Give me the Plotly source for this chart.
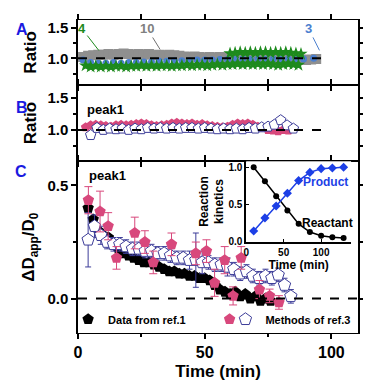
import plotly.graph_objects as go

# ---------------- Panel A data ----------------
a_gray_t = [2, 4, 6, 8, 10, 12, 14, 16, 18, 20, 22, 24, 26, 28, 30, 32, 34, 36, 38, 40,
            42, 44, 46, 48, 50, 52, 54, 56, 58, 60, 62, 64, 66, 68, 70, 72, 74, 76, 78, 80,
            82, 84, 86, 88, 90, 92, 94]
a_gray_v = [1.02, 1.04, 1.05, 1.06, 1.06, 1.07, 1.06, 1.07, 1.08, 1.07, 1.06, 1.07, 1.06, 1.07, 1.05,
            1.06, 1.05, 1.06, 1.05, 1.04, 1.03, 1.02, 1.03, 1.02, 1.01, 1.02, 1.01, 1.02, 1.01, 1.02,
            1.03, 1.02, 1.03, 1.02, 1.01, 1.02, 1.03, 1.02, 1.01, 1.00, 0.99, 0.98, 0.97, 0.98, 0.97,
            0.98, 0.99]

a_blue_t = [2, 5, 8, 11, 14, 17, 20, 23, 26, 29, 32, 35, 38, 41, 44, 47, 50, 53, 56, 59,
            62, 65, 68, 71, 74, 77, 80, 83, 86, 89, 93]
a_blue_v = [0.97, 0.93, 0.92, 0.92, 0.93, 0.92, 0.93, 0.93, 0.94, 0.94, 0.95, 0.95, 0.96, 0.96, 0.96,
            0.97, 0.97, 0.97, 0.98, 0.98, 0.98, 0.99, 0.98, 0.99, 0.98, 0.99, 0.98, 0.99, 0.98, 0.99,
            1.00]

a_green_low_t = [3, 5, 7, 9, 11, 13, 15, 17, 19, 21, 23, 25, 27, 29, 31, 33, 35, 37, 39, 41,
                 43, 45, 47, 49, 51, 53, 55, 57, 59, 61, 63, 65, 67, 69, 71, 73, 75, 77, 79, 81,
                 83, 85, 87]
a_green_low_v = [0.88, 0.86, 0.87, 0.86, 0.87, 0.86, 0.87, 0.87, 0.86, 0.87,
                 0.87, 0.88, 0.87, 0.88, 0.87, 0.88, 0.88, 0.87, 0.88, 0.88,
                 0.89, 0.88, 0.89, 0.89, 0.88, 0.89, 0.90, 0.89, 0.90, 0.90,
                 0.91, 0.90, 0.91, 0.90, 0.91, 0.90, 0.91, 0.90, 0.89, 0.90,
                 0.91, 0.90, 0.89]

a_green_up_t = [60, 62, 64, 66, 68, 70, 72, 74, 76, 78, 80, 82, 84, 86, 88]
a_green_up_v = [1.08, 1.09, 1.10, 1.09, 1.10, 1.09, 1.10, 1.10, 1.09, 1.10, 1.09, 1.10, 1.09, 1.08, 1.07]

# ---------------- Panel B data ----------------
b_pink_t = [3, 5, 7, 9, 11, 13, 15, 17, 19, 21, 23, 25, 27, 29, 31, 33, 35, 37, 39, 41,
            43, 45, 47, 49, 51, 53, 55, 57, 59, 61, 63, 65, 67, 69, 71, 73, 75, 77, 79, 81, 83]
b_pink_v = [1.04, 1.07, 1.08, 1.07, 1.06, 1.05, 1.07, 1.08, 1.07, 1.08, 1.09, 1.10, 1.09, 1.07, 1.06,
            1.07, 1.08, 1.10, 1.11, 1.10, 1.09, 1.10, 1.08, 1.09, 1.07, 1.06, 1.05, 1.04, 1.05, 1.08,
            1.10, 1.09, 1.10, 1.08, 1.05, 1.03, 1.00, 0.99, 0.98, 1.00, 0.99]

b_open_t = [5, 7.5, 10, 12.5, 15, 17.5, 20, 22.5, 25, 27.5, 30, 32.5, 35, 37.5, 40, 42.5, 45,
            47.5, 50, 52.5, 55, 57.5, 60, 62.5, 65, 67.5, 70, 72.5, 75, 77.5, 80, 82.5, 85]
b_open_v = [0.92, 1.03, 1.00, 1.02, 1.01, 1.02, 1.00, 1.02, 1.01, 1.03, 1.02, 1.03, 1.02, 1.03,
            1.02, 1.03, 1.03, 1.02, 1.03, 1.02, 1.01, 1.02, 1.01, 1.02, 1.01, 1.03, 1.02, 1.04,
            1.05, 1.08, 1.15, 1.07, 1.02]

# ---------------- Panel C data ----------------
c_black_t = [4, 6, 8, 10, 12, 14, 16, 18, 20, 22, 24, 26, 28, 30, 32, 34, 36, 38, 40, 42,
             44, 46, 48, 50, 52, 54, 56, 58, 60, 62, 64, 66, 68, 70, 72, 74, 76]
c_black_v = [0.40, 0.35, 0.30, 0.28, 0.27, 0.24, 0.22, 0.20, 0.19, 0.18, 0.17, 0.16, 0.16, 0.15,
             0.14, 0.13, 0.12, 0.12, 0.11, 0.11, 0.10, 0.10, 0.09, 0.09, 0.08, 0.06, 0.04, 0.03,
             0.02, 0.03, 0.01, 0.02, 0.00, 0.01, -0.01, 0.00, -0.01]

c_open_t = [4, 6.5, 9, 11.5, 14, 16.5, 19, 21.5, 24, 26.5, 29, 31.5, 34, 36.5, 39, 41.5, 44,
            46.5, 49, 51.5, 54, 56.5, 59, 61.5, 64, 66.5, 69, 71.5, 74, 76.5, 79, 81.5, 84]
c_open_v = [0.26, 0.32, 0.28, 0.25, 0.24, 0.24, 0.23, 0.22, 0.22, 0.21, 0.21, 0.20, 0.20, 0.19,
            0.18, 0.18, 0.17, 0.17, 0.16, 0.16, 0.15, 0.15, 0.14, 0.13, 0.11, 0.12, 0.10, 0.09,
            0.10, 0.09, 0.105, 0.06, 0.01]
c_open_err = [0.12, 0.05, 0.04, 0.03, 0.03, 0.03, 0.03, 0.03, 0.03, 0.03, 0.03, 0.03, 0.03, 0.03,
              0.03, 0.03, 0.04, 0.12, 0.05, 0.03, 0.03, 0.03, 0.04, 0.03, 0.03, 0.03, 0.03, 0.03,
              0.03, 0.03, 0.03, 0.03, 0.03]

c_pink_t = [4.1, 8.7, 11.9, 15.2, 22.4, 26.4, 29.7, 36.9, 46.5, 50.7, 53.9, 57.9, 61.2, 64.4,
            71.6, 75.6, 79.3]
c_pink_v = [0.435, 0.385, 0.32, 0.18, 0.29, 0.25, 0.16, 0.24, 0.20, 0.21, 0.07, 0.17, 0.012,
            0.18, 0.04, 0.012, -0.017]
c_pink_err = [0.06, 0.09, 0.06, 0.05, 0.07, 0.05, 0.05, 0.05, 0.05, 0.05, 0.06, 0.06, 0.04,
              0.05, 0.04, 0.03, 0.03]

# ---------------- Inset data ----------------
ins_t = [10, 25, 40, 55, 70, 85, 100, 115, 130]
ins_reactant = [1.00, 0.81, 0.61, 0.42, 0.24, 0.13, 0.08, 0.06, 0.05]
ins_product = [0.145, 0.32, 0.48, 0.65, 0.82, 0.93, 0.98, 0.99, 1.00]

FONT = "Liberation Sans, Arial, sans-serif"
PINK = "#d8487c"
NAVY = "#3d3d99"
GREEN = "#1d8a1d"
GRAY = "#8f8f8f"
BLUE = "#4b7fcf"
PBLUE = "#1c3fe6"
LETTER = "#1a1ae0"

# page has an 8px body margin: figure is sized/margined to compensate
OFF = 8
FW, FH = 371 - OFF, 385 - OFF

fig = go.Figure()

# Panel A
fig.add_trace(go.Scatter(x=a_gray_t, y=a_gray_v, mode="markers", xaxis="x3", yaxis="y3",
                         marker=dict(symbol="square", size=10, color=GRAY),
                         error_y=dict(type="constant", value=0.05, color=GRAY, thickness=1, width=2),
                         showlegend=False))
fig.add_trace(go.Scatter(x=a_blue_t, y=a_blue_v, mode="markers", xaxis="x3", yaxis="y3",
                         marker=dict(symbol="circle", size=7, color=BLUE),
                         showlegend=False))
fig.add_trace(go.Scatter(x=a_green_low_t, y=a_green_low_v, mode="markers", xaxis="x3", yaxis="y3",
                         marker=dict(symbol="star", size=10, color=GREEN),
                         error_y=dict(type="constant", value=0.04, color=GREEN, thickness=1, width=2),
                         showlegend=False))
fig.add_trace(go.Scatter(x=a_green_up_t, y=a_green_up_v, mode="markers", xaxis="x3", yaxis="y3",
                         marker=dict(symbol="star", size=10, color=GREEN),
                         showlegend=False))

# Panel B
fig.add_trace(go.Scatter(x=b_pink_t, y=b_pink_v, mode="markers", xaxis="x2", yaxis="y2",
                         marker=dict(symbol="pentagon", size=10, color=PINK),
                         error_y=dict(type="constant", value=0.04, color=PINK, thickness=1, width=2),
                         showlegend=False))
fig.add_trace(go.Scatter(x=b_open_t, y=b_open_v, mode="markers", xaxis="x2", yaxis="y2",
                         marker=dict(symbol="pentagon", size=11, color="white",
                                     line=dict(color=NAVY, width=1)),
                         error_y=dict(type="constant", value=0.02, color=NAVY, thickness=1, width=2),
                         showlegend=False))

# Panel C
fig.add_trace(go.Scatter(x=c_black_t, y=c_black_v, mode="markers", xaxis="x", yaxis="y",
                         name="Data from ref.1", legend="legend",
                         marker=dict(symbol="pentagon", size=12, color="black")))
fig.add_trace(go.Scatter(x=c_open_t, y=c_open_v, mode="markers", xaxis="x", yaxis="y",
                         name="Methods of ref.3", legend="legend3",
                         marker=dict(symbol="pentagon", size=13, color="white",
                                     line=dict(color=NAVY, width=1)),
                         error_y=dict(type="data", array=c_open_err, color=NAVY, thickness=1, width=3)))
fig.add_trace(go.Scatter(x=c_pink_t, y=c_pink_v, mode="markers", xaxis="x", yaxis="y",
                         name=" ", legend="legend2",
                         marker=dict(symbol="pentagon", size=12, color=PINK),
                         error_y=dict(type="data", array=c_pink_err, color=PINK, thickness=1, width=4)))

# Inset
fig.add_trace(go.Scatter(x=ins_t, y=ins_reactant, mode="lines+markers", xaxis="x4", yaxis="y4",
                         line=dict(color="black", width=1.5),
                         marker=dict(symbol="circle", size=6, color="black"), showlegend=False))
fig.add_trace(go.Scatter(x=ins_t, y=ins_product, mode="lines+markers", xaxis="x4", yaxis="y4",
                         line=dict(color=PBLUE, width=1.5),
                         marker=dict(symbol="diamond", size=7, color=PBLUE), showlegend=False))

XR = [0, 110.5]
common_x = dict(range=XR, showline=True, linecolor="black", linewidth=1, mirror="ticks",
                ticks="outside", ticklen=5, tickwidth=1.5, tickcolor="black",
                zeroline=False, showgrid=False)
common_y = dict(showline=True, linecolor="black", linewidth=1.5, mirror="ticks",
                ticks="outside", ticklen=5, tickwidth=1.5, tickcolor="black",
                zeroline=False, showgrid=False,
                tickfont=dict(size=15, weight="bold"))

dC = [0, 0.5486]
dB = [0.5486, 0.7931]
dA = [0.7931, 1.0]

PL, PT, PR, PB = 78, 14, 361, 333   # plot area in page pixels


def px_x(p):
    return (p - PL) / (PR - PL)


def px_y(p):
    return (PB - p) / (PB - PT)


LEG = dict(xanchor="left", yanchor="middle",
           bgcolor="rgba(0,0,0,0)", font=dict(size=11, weight="bold"), itemwidth=30)

fig.update_layout(
    width=FW, height=FH,
    margin=dict(l=PL - OFF, r=371 - PR, t=PT - OFF, b=385 - PB),
    paper_bgcolor="white", plot_bgcolor="white",
    font=dict(family=FONT, size=14, color="black", weight="bold"),
    xaxis=dict(**common_x, anchor="y", domain=[0, 1], tickvals=[0, 50, 100],
               minor=dict(tickvals=[25, 75], ticks="outside", ticklen=3, tickwidth=1.5, tickcolor="black"),
               tickfont=dict(size=16, weight="bold"),
               title=dict(text="Time (min)", font=dict(size=17, weight="bold"), standoff=4)),
    yaxis=dict(**common_y, anchor="x", domain=dC, range=[-0.152, 0.607],
               tickvals=[0, 0.5], ticktext=["0.0", "0.5"],
               minor=dict(tickvals=[0.25], ticks="outside", ticklen=3, tickwidth=1.5, tickcolor="black"),
               title=dict(text="ΔD<sub>app</sub>/D<sub>0</sub>", font=dict(size=17, weight="bold"), standoff=8)),
    xaxis2=dict(**common_x, anchor="y2", domain=[0, 1], tickvals=[0, 25, 50, 75, 100],
                showticklabels=False),
    yaxis2=dict(**common_y, anchor="x2", domain=dB, range=[0.515, 1.697],
                tickvals=[1.0, 1.5], ticktext=["1.0", "1.5"],
                minor=dict(tickvals=[0.75, 1.25], ticks="outside", ticklen=3, tickwidth=1.5, tickcolor="black"),
                title=dict(text="Ratio", font=dict(size=17, weight="bold"), standoff=6)),
    xaxis3=dict(**common_x, anchor="y3", domain=[0, 1], tickvals=[0, 25, 50, 75, 100],
                showticklabels=False),
    yaxis3=dict(**common_y, anchor="x3", domain=dA, range=[0.565, 1.629],
                tickvals=[1.0, 1.5], ticktext=["1.0", "1.5"],
                minor=dict(tickvals=[0.75, 1.25], ticks="outside", ticklen=3, tickwidth=1.5, tickcolor="black"),
                title=dict(text="Ratio", font=dict(size=17, weight="bold"), standoff=6)),
    xaxis4=dict(anchor="y4", domain=[0.6007, 0.9753], range=[0, 140], tickvals=[0, 50, 100],
                showline=True, linecolor="black", linewidth=1.5, ticks="inside", ticklen=3,
                tickwidth=1.2, tickcolor="black", zeroline=False, showgrid=False,
                tickfont=dict(size=10, weight="bold"),
                title=dict(text="Time (min)", font=dict(size=12, weight="bold"), standoff=0)),
    yaxis4=dict(anchor="x4", domain=[0.2915, 0.5486], range=[0, 1.079], tickvals=[0, 0.5, 1.0],
                ticktext=["0.0", "0.5", "1.0"],
                showline=True, linecolor="black", linewidth=1.5, ticks="inside", ticklen=3,
                tickwidth=1.2, tickcolor="black", zeroline=False, showgrid=False,
                tickfont=dict(size=10, weight="bold"),
                title=dict(text="Reaction<br>kinetics", font=dict(size=12, weight="bold"), standoff=2)),
    legend=dict(**LEG, x=px_x(68), y=px_y(319)),
    legend2=dict(**LEG, x=px_x(211), y=px_y(319)),
    legend3=dict(**LEG, x=px_x(227), y=px_y(319)),
)

# Reference dashed lines
fig.add_shape(type="line", xref="x3", yref="y3", x0=0, x1=98.5, y0=1, y1=1,
              line=dict(color="black", width=2, dash="dash"), layer="above")
fig.add_shape(type="line", xref="x2", yref="y2", x0=0, x1=99, y0=1, y1=1,
              line=dict(color="black", width=2, dash="dash"), layer="above")
fig.add_shape(type="line", xref="x", yref="y", x0=0, x1=110.5, y0=0, y1=0,
              line=dict(color="black", width=2, dash="dash"), layer="above")

ann = [
    dict(text="A", xref="paper", yref="paper", x=px_x(13), y=px_y(13), font=dict(size=16, color=LETTER, weight="bold")),
    dict(text="B", xref="paper", yref="paper", x=px_x(13), y=px_y(92), font=dict(size=16, color=LETTER, weight="bold")),
    dict(text="C", xref="paper", yref="paper", x=px_x(12), y=px_y(168), font=dict(size=16, color=LETTER, weight="bold")),
    dict(text="peak1", xref="paper", yref="paper", x=px_x(85), y=px_y(96), xanchor="left", font=dict(size=13, weight="bold")),
    dict(text="peak1", xref="paper", yref="paper", x=px_x(87), y=px_y(172), xanchor="left", font=dict(size=13, weight="bold")),
    dict(text="Product", xref="x4", yref="y4", x=105.7, y=0.80, font=dict(size=12, color=PBLUE, weight="bold")),
    dict(text="Reactant", xref="x4", yref="y4", x=108, y=0.25, font=dict(size=12, weight="bold")),
    dict(text="4", xref="x3", yref="y3", x=8.2, y=1.129, ax=-17, ay=-22, showarrow=True, arrowhead=0,
         arrowwidth=1, arrowcolor=GREEN, font=dict(size=13, color=GREEN, weight="bold")),
    dict(text="10", xref="x3", yref="y3", x=32.4, y=1.145, ax=-13, ay=-21, showarrow=True, arrowhead=0,
         arrowwidth=1, arrowcolor="#707070", font=dict(size=13, color="#808080", weight="bold")),
    dict(text="3", xref="x3", yref="y3", x=95.3, y=1.13, ax=-11, ay=-22, showarrow=True, arrowhead=0,
         arrowwidth=1, arrowcolor=BLUE, font=dict(size=13, color=BLUE, weight="bold")),
]
for a in ann:
    a.setdefault("showarrow", False)
    fig.add_annotation(**a)

fig.write_html("out.html")
